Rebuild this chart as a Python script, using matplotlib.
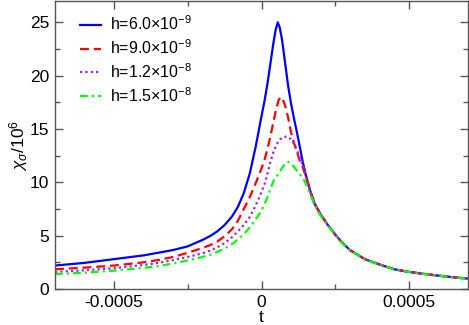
import matplotlib
matplotlib.use('Agg')
import matplotlib.pyplot as plt
from matplotlib.ticker import MultipleLocator

plt.rcParams['font.family'] = ['Liberation Sans', 'DejaVu Sans']
plt.rcParams['mathtext.fontset'] = 'custom'
plt.rcParams['mathtext.rm'] = 'Liberation Sans'
plt.rcParams['mathtext.it'] = 'Liberation Sans:italic'

# data (t, chi/1e6)
t_blue = [-0.0007, -0.0006, -0.0005, -0.0004, -0.00035, -0.0003, -0.00025, -0.0002,
          -0.000175, -0.00015, -0.000125, -0.0001, -0.00008, -0.00006, -0.00004, -0.00002,
          0.0, 0.00001, 0.00002, 0.00003, 0.00004, 0.000048, 0.000055, 0.000062,
          0.00007, 0.00008, 0.00009, 0.0001, 0.00011, 0.00012, 0.00013, 0.00014,
          0.00015, 0.000165, 0.00018, 0.0002, 0.000225, 0.00025, 0.000275, 0.0003,
          0.00035, 0.0004, 0.00045, 0.0005, 0.00055, 0.0006, 0.00065, 0.0007]
v_blue = [2.2, 2.45, 2.8, 3.15, 3.4, 3.65, 4.0, 4.6,
          4.95, 5.4, 6.0, 6.8, 7.7, 9.0, 10.8, 13.3,
          16.2, 17.6, 19.2, 21.1, 23.0, 24.3, 25.0, 24.5,
          23.3, 21.2, 19.1, 17.4, 16.0, 14.7, 13.3, 11.9,
          10.7, 9.2, 8.0, 7.0, 6.0, 5.1, 4.3, 3.65,
          2.8, 2.3, 1.85, 1.6, 1.42, 1.25, 1.1, 0.97]

t_red = [-0.0007, -0.0006, -0.0005, -0.0004, -0.00035, -0.0003, -0.00025, -0.0002,
         -0.000175, -0.00015, -0.000125, -0.0001, -0.00008, -0.00006, -0.00004, -0.00002,
         0.0, 0.00001, 0.00002, 0.00003, 0.00004, 0.00005, 0.000058, 0.000065,
         0.000072, 0.00008, 0.00009, 0.0001, 0.00011, 0.00012, 0.00013, 0.00014,
         0.00015, 0.000165, 0.00018, 0.0002, 0.000225, 0.00025, 0.000275, 0.0003,
         0.00035, 0.0004, 0.00045, 0.0005, 0.00055, 0.0006, 0.00065, 0.0007]
v_red = [1.85, 2.0, 2.2, 2.5, 2.72, 3.0, 3.4, 3.85,
         4.1, 4.45, 4.95, 5.6, 6.4, 7.5, 8.6, 9.9,
         11.3, 12.1, 13.1, 14.3, 15.6, 16.9, 17.7, 18.0,
         17.8, 17.2, 16.1, 14.7, 13.7, 12.9, 12.0, 11.4,
         10.6, 9.2, 8.0, 7.0, 6.0, 5.1, 4.3, 3.65,
         2.8, 2.3, 1.85, 1.6, 1.42, 1.25, 1.1, 0.97]

t_purple = [-0.0007, -0.0006, -0.0005, -0.0004, -0.00035, -0.0003, -0.00025, -0.0002,
            -0.000175, -0.00015, -0.000125, -0.0001, -0.00008, -0.00006, -0.00004, -0.00002,
            0.0, 0.00001, 0.00002, 0.00003, 0.00004, 0.00005, 0.00006, 0.00007,
            0.000085, 0.0001, 0.00011, 0.00012, 0.00013, 0.00014, 0.00015, 0.000165,
            0.00018, 0.0002, 0.000225, 0.00025, 0.000275, 0.0003, 0.00035, 0.0004,
            0.00045, 0.0005, 0.00055, 0.0006, 0.00065, 0.0007]
v_purple = [1.6, 1.75, 1.95, 2.25, 2.45, 2.7, 3.0, 3.35,
            3.6, 3.9, 4.3, 4.85, 5.4, 6.0, 6.75, 7.8,
            9.1, 9.8, 10.8, 11.9, 12.8, 13.5, 13.95, 14.2,
            14.3, 14.05, 13.6, 13.0, 12.3, 11.6, 10.7, 9.2,
            8.0, 7.0, 6.0, 5.1, 4.3, 3.65, 2.8, 2.3,
            1.85, 1.6, 1.42, 1.25, 1.1, 0.97]

t_green = [-0.0007, -0.0006, -0.0005, -0.0004, -0.00035, -0.0003, -0.00025, -0.0002,
           -0.000175, -0.00015, -0.000125, -0.0001, -0.00008, -0.00006, -0.00004, -0.00002,
           0.0, 0.00001, 0.00002, 0.00003, 0.00004, 0.00005, 0.00006, 0.00007,
           0.00008, 0.00009, 0.0001, 0.00011, 0.00012, 0.00013, 0.00014, 0.00015,
           0.000165, 0.00018, 0.0002, 0.000225, 0.00025, 0.000275, 0.0003, 0.00035,
           0.0004, 0.00045, 0.0005, 0.00055, 0.0006, 0.00065, 0.0007]
v_green = [1.4, 1.53, 1.72, 1.98, 2.15, 2.38, 2.68, 3.0,
           3.2, 3.48, 3.8, 4.2, 4.62, 5.15, 5.75, 6.5,
           7.35, 7.95, 8.6, 9.35, 10.1, 10.5, 10.9, 11.35,
           11.75, 11.92, 11.8, 11.45, 11.1, 10.75, 10.4, 9.9,
           8.9, 7.85, 6.9, 5.95, 5.05, 4.25, 3.62, 2.78,
           2.28, 1.84, 1.59, 1.41, 1.24, 1.09, 0.96]

labels = [r'h=6.0$\times$10$^{-9}$', r'h=9.0$\times$10$^{-9}$',
          r'h=1.2$\times$10$^{-8}$', r'h=1.5$\times$10$^{-8}$']

fig = plt.figure(figsize=(4.69, 3.25), dpi=100)
ax = fig.add_axes([55 / 469, 36 / 325, 413 / 469, 288 / 325])

ax.plot(t_blue, v_blue, color='#0000ff', lw=1.6, ls='-', label=labels[0])
ax.plot(t_red, v_red, color='#ff0000', lw=1.6, ls=(0, (4, 2.2)), label=labels[1])
ax.plot(t_purple, v_purple, color='#a020f0', lw=1.6, ls=(0, (1, 1.4)), label=labels[2])
ax.plot(t_green, v_green, color='#00ff00', lw=1.6, ls=(0, (3.5, 1.8, 1, 1.8)), label=labels[3])

ax.set_xlim(-0.0007, 0.0007)
ax.set_ylim(0, 27)
ax.xaxis.set_minor_locator(MultipleLocator(0.00025))
ax.yaxis.set_major_locator(MultipleLocator(5))
ax.yaxis.set_minor_locator(MultipleLocator(2.5))
ax.set_xticks([-0.0005, 0, 0.0005])
ax.set_xticklabels(['-0.0005', '0', '0.0005'])

ax.tick_params(which='both', direction='in', top=True, right=True, labelsize=12.5,
               color='#555555', width=1)
ax.tick_params(which='major', length=6, pad=4)
ax.tick_params(which='minor', length=3.5)
for s in ax.spines.values():
    s.set_color('#555555')
    s.set_linewidth(1)

ax.set_xlabel('t', fontsize=12.5, labelpad=0)
ax.set_ylabel(r'$\chi_\sigma$/10$^6$', fontsize=12.5, labelpad=0)

ax.legend(loc='upper left', bbox_to_anchor=(0.045, 0.975), frameon=False, fontsize=11.5,
          handlelength=1.3, handletextpad=0.6, labelspacing=0.32, borderaxespad=0)

fig.savefig('out.png', dpi=100)
